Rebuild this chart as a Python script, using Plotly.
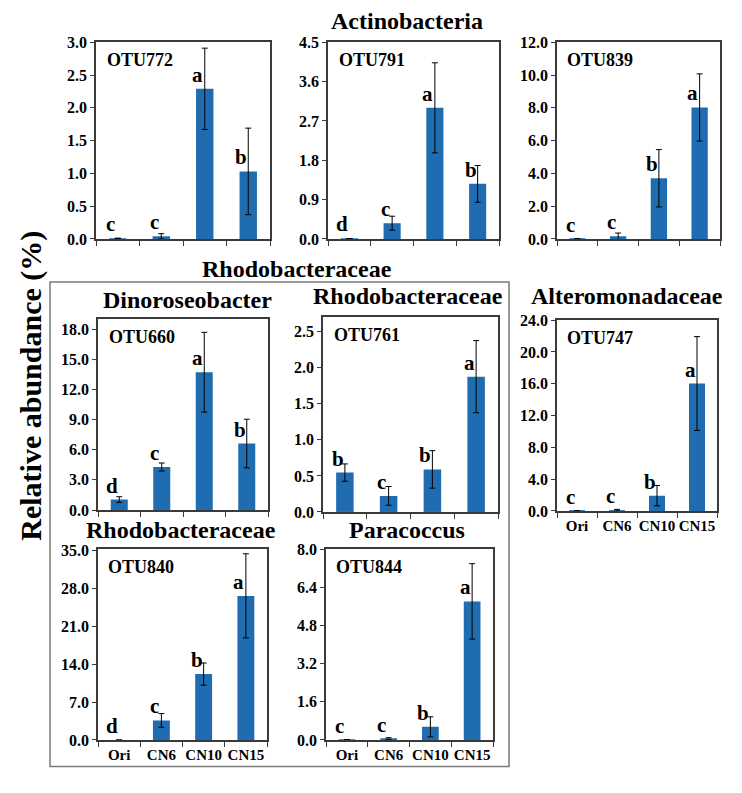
import plotly.graph_objects as go

W, H = 742, 793
categories = ["Ori", "CN6", "CN10", "CN15"]

otu_names = ["OTU772", "OTU791", "OTU839", "OTU660", "OTU761", "OTU747", "OTU840", "OTU844"]
means = [
    [0.01, 0.04, 2.29, 1.03],
    [0.01, 0.36, 3.00, 1.26],
    [0.02, 0.16, 3.70, 8.02],
    [1.04, 4.28, 13.72, 6.62],
    [0.546, 0.223, 0.59, 1.876],
    [0.05, 0.10, 1.93, 16.03],
    [0.0, 3.61, 12.15, 26.58],
    [0.01, 0.055, 0.55, 5.81],
]
errors = [
    [0.0, 0.04, 0.62, 0.66],
    [0.0, 0.16, 1.03, 0.42],
    [0.0, 0.20, 1.75, 2.05],
    [0.28, 0.40, 3.97, 2.42],
    [0.12, 0.13, 0.26, 0.50],
    [0.0, 0.10, 1.28, 5.90],
    [0.0, 1.26, 2.05, 7.76],
    [0.0, 0.04, 0.42, 1.58],
]
letters = [
    ["c", "c", "a", "b"],
    ["d", "c", "a", "b"],
    ["c", "c", "b", "a"],
    ["d", "c", "a", "b"],
    ["b", "c", "b", "a"],
    ["c", "c", "b", "a"],
    ["d", "c", "b", "a"],
    ["c", "c", "b", "a"],
]
y_max = [3.0, 4.5, 12.0, 19.0, 2.7, 24.0, 35.2, 8.0]
y_dtick = [0.5, 0.9, 2.0, 3.0, 0.5, 4.0, 7.0, 1.6]
show_xlabels = [False, False, False, False, False, True, True, True]

# panel boxes in pixels: x0, x1, y0(top), y1(bottom)
boxes = [
    (96, 270, 35, 236),
    (328, 499, 35, 236),
    (557, 720, 35, 236),
    (98, 268, 318, 513),
    (323, 498, 316, 515),
    (557, 717, 319, 514),
    (98, 267, 553, 748),
    (326, 493, 553, 748),
]

FONT = "Liberation Serif"
BAR = "#1F6CB0"
AX = "#3a3a3a"

fig = go.Figure()
annotations = []
for i in range(8):
    xa = "x" if i == 0 else f"x{i+1}"
    ya = "y" if i == 0 else f"y{i+1}"
    fig.add_trace(go.Bar(
        x=categories, y=means[i], xaxis=xa, yaxis=ya, width=0.4,
        marker=dict(color=BAR, line=dict(width=0)),
        error_y=dict(type="data", array=errors[i], color="black", thickness=1, width=3),
        showlegend=False, hoverinfo="skip",
    ))
    x0, x1, t, b = boxes[i]
    xk = "xaxis" if i == 0 else f"xaxis{i+1}"
    yk = "yaxis" if i == 0 else f"yaxis{i+1}"
    fig.layout[xk] = dict(
        domain=[x0 / W, x1 / W], anchor=ya, type="category",
        showline=True, mirror=True, linecolor=AX, linewidth=1.5,
        ticks="outside", ticklen=5, tickcolor=AX, tickson="boundaries",
        showticklabels=show_xlabels[i], showgrid=False, tickangle=0,
        tickfont=dict(family=FONT, size=15, color="black", weight="bold"),
        range=[-0.5, 3.5],
    )
    fig.layout[yk] = dict(
        domain=[1 - b / H, 1 - t / H], anchor=xa,
        range=[0, y_max[i]], dtick=y_dtick[i], tick0=0, tickformat=".1f",
        showline=True, mirror=True, linecolor=AX, linewidth=1.5,
        ticks="outside", ticklen=4, tickcolor=AX, showgrid=False, zeroline=False,
        tickfont=dict(family=FONT, size=16, color="black", weight="bold"),
    )
    annotations.append(dict(
        x=0.05, y=0.97, xref=f"{xa} domain", yref=f"{ya} domain",
        text=f"<b>{otu_names[i]}</b>", showarrow=False, xanchor="left", yanchor="top",
        font=dict(family=FONT, size=18, color="black"),
    ))
    for j, c in enumerate(categories):
        annotations.append(dict(
            x=c, y=means[i][j], xref=xa, yref=ya, text=f"<b>{letters[i][j]}</b>",
            showarrow=False, xanchor="center", yanchor="bottom", xshift=-7, yshift=0,
            font=dict(family=FONT, size=21, color="black"),
        ))

titles = [
    ("Actinobacteria", 407, 13),
    ("Rhodobacteraceae", 297, 267),
    ("Dinoroseobacter", 187, 298),
    ("Rhodobacteraceae", 408, 294),
    ("Alteromonadaceae", 627, 294),
    ("Rhodobacteraceae", 181, 533),
    ("Paracoccus", 407, 533),
]
for txt, px, py in titles:
    annotations.append(dict(
        x=px / W, y=1 - py / H, xref="paper", yref="paper", text=f"<b>{txt}</b>",
        showarrow=False, xanchor="center", yanchor="middle",
        font=dict(family=FONT, size=24, color="black"),
    ))

annotations.append(dict(
    x=31 / W, y=1 - 386 / H, xref="paper", yref="paper",
    text="<b>Relative abundance (%)</b>", textangle=-90, showarrow=False,
    xanchor="center", yanchor="middle", font=dict(family=FONT, size=30, color="black"),
))

shapes = [dict(
    type="rect", xref="paper", yref="paper",
    x0=50 / W, x1=509 / W, y0=1 - 775 / H, y1=1 - 280 / H,
    line=dict(color="#7a7a7a", width=1.5), fillcolor="rgba(0,0,0,0)", layer="below",
)]

fig.update_layout(
    width=W, height=H, margin=dict(l=0, r=0, t=0, b=0),
    paper_bgcolor="white", plot_bgcolor="white",
    annotations=annotations, shapes=shapes, bargap=0.6,
)
fig.write_html(
    "out.html",
    config={"displayModeBar": False},
    post_script="document.body.style.margin='0';document.body.style.overflow='hidden';",
)
